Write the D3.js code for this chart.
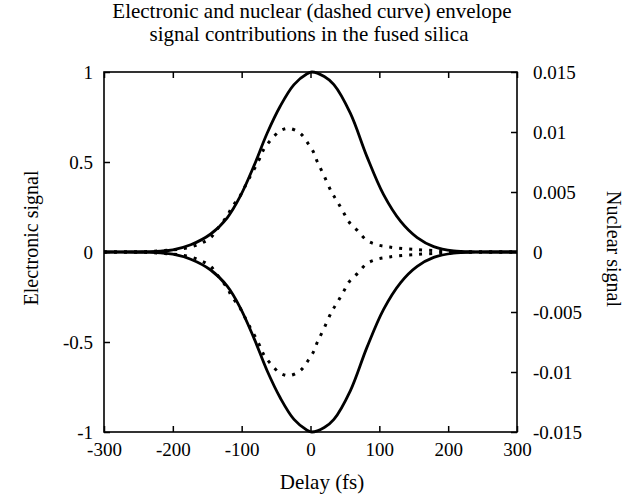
<!DOCTYPE html>
<html>
<head>
<meta charset="utf-8">
<script src="https://cdn.jsdelivr.net/npm/d3@7"></script>
<style>
  body { margin: 0; background: #fff; }
  svg, svg text { font-family: "Liberation Serif", "Times New Roman", Times, Tinos, "Nimbus Roman", "FreeSerif", "Noto Serif", "DejaVu Serif", serif; }
</style>
</head>
<body>
<div id="chart"></div>
<script>
// Electronic envelope (left axis)
const elecDelay = [-300, -260, -240, -218, -200, -174, -145, -121, -102, -82, -63, -44, -24, -5, 2,
                   20, 34, 58, 82, 106, 131, 155, 179, 208, 240, 260, 300];
const elecValue = [0, 0, 0.002, 0.005, 0.012, 0.04, 0.10, 0.19, 0.31, 0.48, 0.66, 0.81, 0.93, 0.99, 1.0,
                   0.975, 0.93, 0.77, 0.53, 0.32, 0.17, 0.08, 0.03, 0.006, 0.001, 0, 0];

// Nuclear envelope (right axis)
const nucDelay = [-300, -240, -200, -180, -160, -145, -133, -121, -114, -104, -97, -89, -75, -68, -58,
                  -44, -31, -15, -3, 5, 10, 19, 31, 39, 48, 56, 68, 82, 97, 111, 126, 150, 180, 210, 240, 300];
const nucValue = [0, 0.00003, 0.00018, 0.00033, 0.0007, 0.0012, 0.0021, 0.003, 0.00375, 0.0045, 0.00525,
                  0.00615, 0.00765, 0.00855, 0.0093, 0.0101, 0.0103, 0.0099, 0.009, 0.00825, 0.0075,
                  0.00645, 0.00495, 0.0042, 0.0033, 0.0025, 0.0018, 0.00096, 0.0006, 0.00045, 0.00033,
                  0.00022, 0.00012, 0.00003, 0, 0];

const xTicks = [-300, -200, -100, 0, 100, 200, 300];
const leftTicks = [-1, -0.5, 0, 0.5, 1];
const rightTicks = [-0.015, -0.01, -0.005, 0, 0.005, 0.01, 0.015];

const W = 639, H = 500;
const margin = {top: 72, right: 122, bottom: 68, left: 104};
const width = W - margin.left - margin.right;
const height = H - margin.top - margin.bottom;

const svg = d3.select("#chart")
              .append("svg")
                .attr("width", W)
                .attr("height", H);

const g = svg.append("g")
             .attr("transform", `translate(${margin.left},${margin.top})`);

const x = d3.scaleLinear().domain([-300, 300]).range([0, width]);
const yL = d3.scaleLinear().domain([-1, 1]).range([height, 0]);
const yR = d3.scaleLinear().domain([-0.015, 0.015]).range([height, 0]);

// plain hyphen instead of d3's unicode minus
const fmt = d => String(+d.toFixed(3));

// Axes with inward ticks
g.append("g")
   .attr("transform", `translate(0,${height})`)
   .call(d3.axisBottom(x).tickValues(xTicks).tickSize(-6).tickSizeOuter(0).tickPadding(11).tickFormat(fmt));
g.append("g")
   .call(d3.axisTop(x).tickValues(xTicks).tickSize(-6).tickSizeOuter(0).tickFormat(""));
g.append("g")
   .call(d3.axisLeft(yL).tickValues(leftTicks).tickSize(-6).tickSizeOuter(0).tickPadding(11).tickFormat(fmt));
g.append("g")
   .attr("transform", `translate(${width},0)`)
   .call(d3.axisRight(yR).tickValues(rightTicks).tickSize(-6).tickSizeOuter(0).tickPadding(16).tickFormat(fmt));

g.selectAll(".domain").remove();
g.selectAll(".tick line").attr("stroke", "#000").attr("stroke-width", 1.5);
g.selectAll("g").attr("font-family", null).attr("font-size", null);
g.selectAll(".tick text")
   .style("font-size", "19px")
   .attr("fill", "#000");

// Frame
g.append("rect")
   .attr("width", width)
   .attr("height", height)
   .attr("fill", "none")
   .attr("stroke", "#000")
   .attr("stroke-width", 1.6);

// Curves
const elec = elecDelay.map((d, i) => [d, elecValue[i]]);
const nuc = nucDelay.map((d, i) => [d, nucValue[i]]);

const lineL = d3.line().x(d => x(d[0])).y(d => yL(d[1])).curve(d3.curveCatmullRom.alpha(0.5));
const lineR = d3.line().x(d => x(d[0])).y(d => yR(d[1])).curve(d3.curveCatmullRom.alpha(0.5));

[1, -1].forEach(s => {
  g.append("path")
     .datum(nuc.map(p => [p[0], s * p[1]]))
     .attr("d", lineR)
     .attr("fill", "none")
     .attr("stroke", "#000")
     .attr("stroke-width", 3)
     .attr("stroke-dasharray", "3,7");
  g.append("path")
     .datum(elec.map(p => [p[0], s * p[1]]))
     .attr("d", lineL)
     .attr("fill", "none")
     .attr("stroke", "#000")
     .attr("stroke-width", 2.8);
});

// Titles and axis labels
const label = (txt, tr, size) =>
  svg.append("text")
     .attr("transform", tr)
     .attr("text-anchor", "middle")
     .style("font-size", size)
     .attr("fill", "#000")
     .text(txt);

label("Electronic and nuclear (dashed curve) envelope", "translate(312,18)", "21px");
label("signal contributions in the fused silica", "translate(309,41)", "21px");
label("Delay (fs)", "translate(322,489)", "21px");
label("Electronic signal", "translate(38,238) rotate(-90)", "20px");
label("Nuclear signal", "translate(607,249) rotate(90)", "20px");
</script>
</body>
</html>
